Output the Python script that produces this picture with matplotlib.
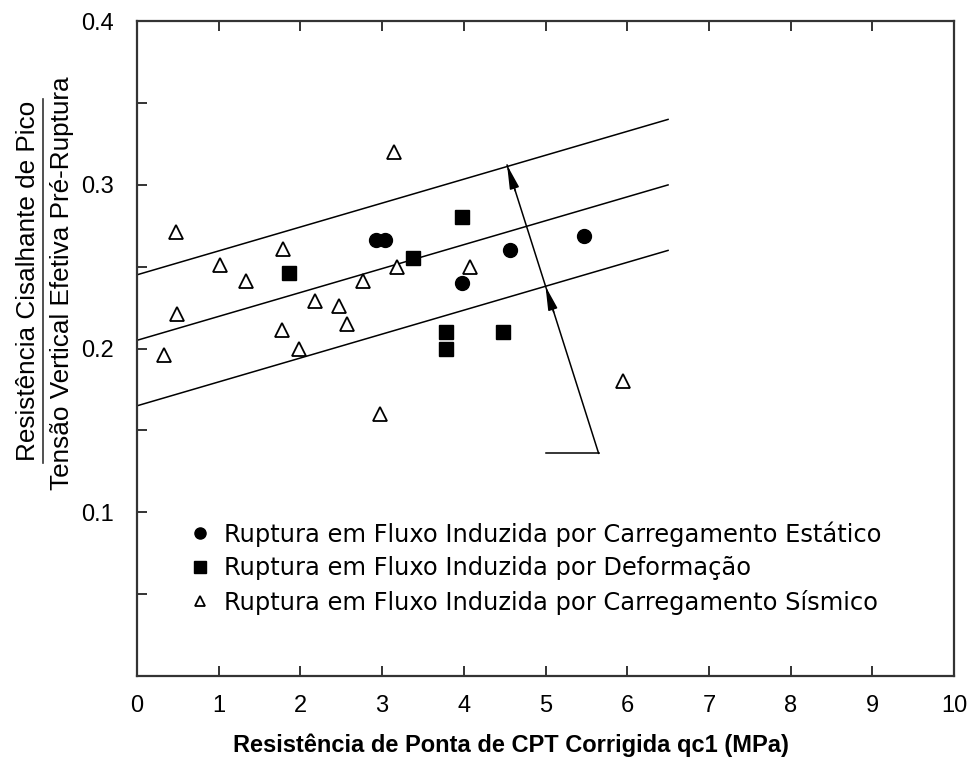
import matplotlib
matplotlib.use("Agg")
import matplotlib.pyplot as plt
from matplotlib.lines import Line2D
from matplotlib.ticker import MultipleLocator

plt.rcParams['font.family'] = ['Liberation Sans', 'DejaVu Sans']

# ---- data ----
static_x = [2.93, 3.03, 3.98, 4.57, 5.47]
static_y = [0.266, 0.266, 0.240, 0.260, 0.269]

deform_x = [1.86, 3.38, 3.98, 3.78, 3.78, 4.48]
deform_y = [0.246, 0.255, 0.280, 0.210, 0.200, 0.210]

seismic_x = [0.33, 0.49, 0.48, 1.02, 1.33, 1.79, 1.77, 1.98, 2.18, 2.47,
             2.57, 2.77, 2.98, 3.15, 3.18, 4.08, 5.95]
seismic_y = [0.196, 0.221, 0.271, 0.251, 0.241, 0.261, 0.211, 0.200, 0.229, 0.226,
             0.215, 0.241, 0.160, 0.320, 0.250, 0.250, 0.180]

band_x = [0.0, 6.5]
band_intercepts = [0.165, 0.205, 0.245]
band_slope = 0.0146

arrow_bottom = (5.65, 0.136)
arrow_top = (4.53, 0.312)
arrow_mid = (5.0, 0.238)
base_x = [5.0, 5.65]
base_y = [0.136, 0.136]

labels = ["Ruptura em Fluxo Induzida por Carregamento Estático",
          "Ruptura em Fluxo Induzida por Deformação",
          "Ruptura em Fluxo Induzida por Carregamento Sísmico"]

xticks = list(range(0, 11))
yticks = [0.1, 0.2, 0.3, 0.4]

# ---- figure ----
fig = plt.figure(figsize=(9.75, 7.73), dpi=100)
ax = fig.add_axes([137/975, 1-676/773, (954-137)/975, (676-21)/773])
ax.set_xlim(0, 10)
ax.set_ylim(0, 0.4)

for b in band_intercepts:
    ax.plot(band_x, [b + band_slope*x for x in band_x], color='black', lw=1.1, zorder=2)

ax.plot([arrow_bottom[0], arrow_top[0]], [arrow_bottom[1], arrow_top[1]], color='black', lw=1.1)
ax.plot(base_x, base_y, color='black', lw=1.1)
dx = arrow_top[0]-arrow_bottom[0]
dy = arrow_top[1]-arrow_bottom[1]
for tip in (arrow_top, arrow_mid):
    ax.annotate('', xy=tip, xytext=(tip[0]-0.09*dx, tip[1]-0.09*dy),
                arrowprops=dict(arrowstyle='-|>,head_length=0.8,head_width=0.16',
                                color='black', lw=1.1,
                                mutation_scale=18, shrinkA=0, shrinkB=0))

ax.plot(static_x, static_y, 'o', ms=10, color='black', ls='none', zorder=3, label=labels[0])
ax.plot(deform_x, deform_y, 's', ms=10, color='black', ls='none', zorder=3, label=labels[1])
ax.plot(seismic_x, seismic_y, '^', ms=9.5, mfc='white', mec='black', mew=1.3, ls='none',
        zorder=3, label=labels[2])

leg = ax.legend(loc='upper left', bbox_to_anchor=(0.0624, 0.2365), borderaxespad=0,
                borderpad=0, frameon=False, handlelength=1.0, handletextpad=0.49,
                labelspacing=0.40, markerscale=0.8,
                prop={'family': 'DejaVu Sans', 'size': 17.4})

ax.set_xticks(xticks)
ax.set_yticks(yticks)
ax.yaxis.set_minor_locator(MultipleLocator(0.05))
ax.tick_params(axis='both', which='both', direction='in', length=7, width=1.4,
               top=True, right=False, labelsize=17, color='#333333')
ax.tick_params(axis='x', pad=14)
ax.tick_params(axis='y', pad=17)
ax.set_xticklabels([str(t) for t in xticks])
ax.set_yticklabels([f"{t:.1f}" for t in yticks])
for s in ax.spines.values():
    s.set_linewidth(1.6)
    s.set_color('#333333')

fig.text(511/975, 1-745/773, "Resistência de Ponta de CPT Corrigida qc1 (MPa)",
         ha='center', va='center', fontsize=17, fontweight='bold')
fig.text(28/975, 1-281/773, "Resistência Cisalhante de Pico", rotation=90,
         ha='center', va='center', fontsize=18.8)
fig.text(62/975, 1-283/773, "Tensão Vertical Efetiva Pré-Ruptura", rotation=90,
         ha='center', va='center', fontsize=18.8)
fig.add_artist(Line2D([43/975, 43/975], [1-463/773, 1-99/773], color='#333333', lw=1.2))

fig.savefig("out.png", dpi=100)
